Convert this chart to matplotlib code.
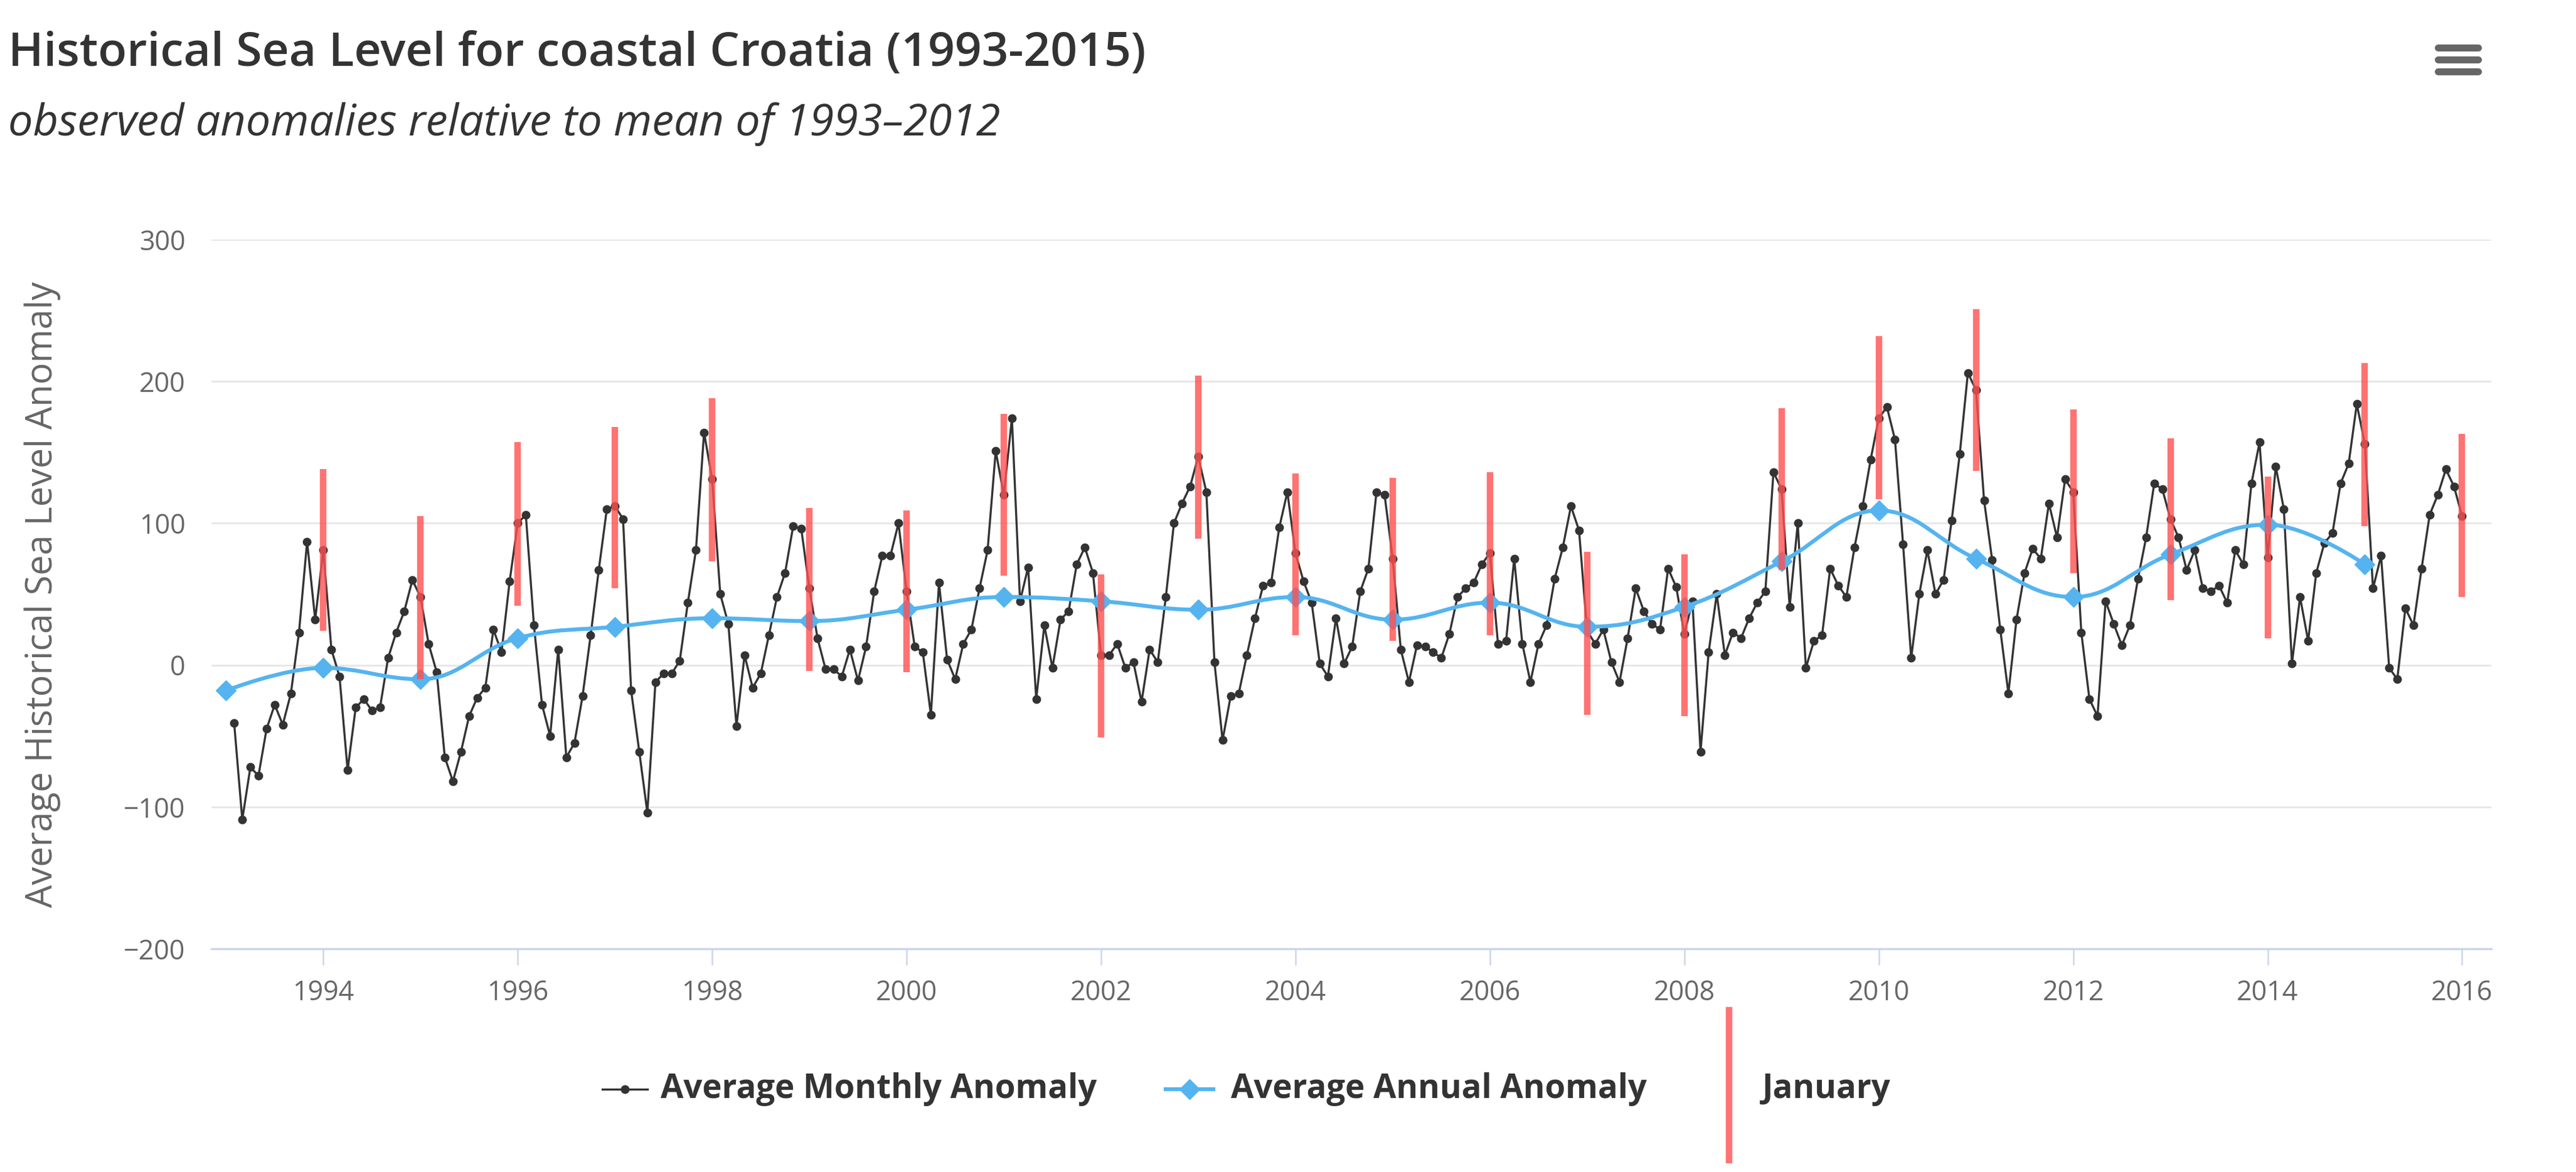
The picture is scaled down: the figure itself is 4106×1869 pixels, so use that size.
import matplotlib
matplotlib.use("Agg")
import matplotlib.pyplot as plt
from matplotlib.path import Path
from matplotlib.patches import PathPatch
from matplotlib.lines import Line2D

plt.rcParams['font.family'] = ['Open Sans', 'DejaVu Sans']

# monthly sea level anomaly, Feb 1993 .. Jan 2016 (one row per year)
monthly_anomaly = [
    -41, -109, -72, -78, -45, -28, -42, -20, 23, 87, 32,          # 1993 (Feb-Dec)
    81, 11, -8, -74, -30, -24, -32, -30, 5, 23, 38, 60,            # 1994
    48, 15, -5, -65, -82, -61, -36, -23, -16, 25, 9, 59,           # 1995
    100, 106, 28, -28, -50, 11, -65, -55, -22, 21, 67, 110,        # 1996
    112, 103, -18, -61, -104, -12, -6, -6, 3, 44, 81, 164,         # 1997
    131, 50, 29, -43, 7, -16, -6, 21, 48, 65, 98, 96,              # 1998
    54, 19, -3, -3, -8, 11, -11, 13, 52, 77, 77, 100,              # 1999
    52, 13, 9, -35, 58, 4, -10, 15, 25, 54, 81, 151,               # 2000
    120, 174, 45, 69, -24, 28, -2, 32, 38, 71, 83, 65,             # 2001
    7, 7, 15, -2, 2, -26, 11, 2, 48, 100, 114, 126,                # 2002
    147, 122, 2, -53, -22, -20, 7, 33, 56, 58, 97, 122,            # 2003
    79, 59, 44, 1, -8, 33, 1, 13, 52, 68, 122, 120,                # 2004
    75, 11, -12, 14, 13, 9, 5, 22, 48, 54, 58, 71,                 # 2005
    79, 15, 17, 75, 15, -12, 15, 28, 61, 83, 112, 95,              # 2006
    24, 15, 25, 2, -12, 19, 54, 38, 29, 25, 68, 55,                # 2007
    22, 45, -61, 9, 50, 7, 23, 19, 33, 44, 52, 136,                # 2008
    124, 41, 100, -2, 17, 21, 68, 56, 48, 83, 112, 145,            # 2009
    174, 182, 159, 85, 5, 50, 81, 50, 60, 102, 149, 206,           # 2010
    194, 116, 74, 25, -20, 32, 65, 82, 75, 114, 90, 131,           # 2011
    122, 23, -24, -36, 45, 29, 14, 28, 61, 90, 128, 124,           # 2012
    103, 90, 67, 81, 54, 52, 56, 44, 81, 71, 128, 157,             # 2013
    76, 140, 110, 1, 48, 17, 65, 86, 93, 128, 142, 184,            # 2014
    156, 54, 77, -2, -10, 40, 28, 68, 106, 120, 138, 126,          # 2015
    105,                                                           # 2016 (Jan)
]
first_year, first_month = 1993, 2

annual_years = list(range(1993, 2016))
annual_anomaly = [-18, -2, -10, 19, 27, 33, 31, 39, 48, 45, 39, 48,
                  32, 44, 27, 41, 73, 109, 75, 48, 78, 99, 71]

jan_years = list(range(1994, 2017))
jan_high = [138, 105, 157, 168, 188, 111, 109, 177, 64, 204, 135, 132,
            136, 80, 78, 181, 232, 251, 180, 160, 133, 213, 163]
jan_low = [24, -10, 42, 54, 73, -4, -5, 63, -51, 89, 21, 17,
           21, -35, -36, 67, 117, 137, 65, 46, 19, 98, 48]

title = "Historical Sea Level for coastal Croatia (1993-2015)"
subtitle = "observed anomalies relative to mean of 1993\u20132012"
ylabel = "Average Historical Sea Level Anomaly"

BLACK = "#333333"
BLUE = "#55b4ef"
RED = "#ff5050"


def spline_path(xs, ys):
    # Highcharts-style smoothed line through the points
    n = len(xs)
    lc = [None] * n
    rc = [None] * n
    for i in range(1, n - 1):
        px, py = xs[i], ys[i]
        lx, ly = xs[i - 1], ys[i - 1]
        nx, ny = xs[i + 1], ys[i + 1]
        lcx = (1.5 * px + lx) / 2.5
        lcy = (1.5 * py + ly) / 2.5
        rcx = (1.5 * px + nx) / 2.5
        rcy = (1.5 * py + ny) / 2.5
        corr = (rcy - lcy) * (rcx - px) / (rcx - lcx) + py - rcy
        lcy += corr
        rcy += corr
        if lcy > ly and lcy > py:
            lcy = max(ly, py)
            rcy = 2 * py - lcy
        elif lcy < ly and lcy < py:
            lcy = min(ly, py)
            rcy = 2 * py - lcy
        if rcy > ny and rcy > py:
            rcy = max(ny, py)
            lcy = 2 * py - rcy
        elif rcy < ny and rcy < py:
            rcy = min(ny, py)
            lcy = 2 * py - rcy
        lc[i] = (lcx, lcy)
        rc[i] = (rcx, rcy)
    verts = [(xs[0], ys[0])]
    codes = [Path.MOVETO]
    for i in range(1, n):
        c1 = rc[i - 1] if rc[i - 1] else (xs[i - 1], ys[i - 1])
        c2 = lc[i] if lc[i] else (xs[i], ys[i])
        verts += [c1, c2, (xs[i], ys[i])]
        codes += [Path.CURVE4] * 3
    return Path(verts, codes)


month_x = [first_year + (first_month - 1 + i) / 12 for i in range(len(monthly_anomaly))]

fig = plt.figure(figsize=(41.06, 18.69), dpi=100)
ax = fig.add_axes([0.0821, 0.1905, 0.8850, 0.6051])

ax.plot(month_x, monthly_anomaly, color=BLACK, lw=2.4, marker="o", ms=9,
        mec=BLACK, zorder=3)

ax.add_patch(PathPatch(spline_path(annual_years, annual_anomaly), fill=False,
                       ec=BLUE, lw=4.5, zorder=4, capstyle="round"))
ax.plot(annual_years, annual_anomaly, ls="none", marker="D", ms=16,
        color=BLUE, zorder=5)

ax.vlines(jan_years, jan_low, jan_high, color=RED, lw=7.5, alpha=0.8, zorder=6)

ax.set_xlim(1992.85, 2016.3)
ax.set_ylim(-200, 300)
ax.set_xticks(range(1994, 2017, 2))
ax.set_yticks(range(-200, 301, 100))
ax.grid(axis="y", color="#e6e6e6", lw=2)
ax.set_axisbelow(True)
for s in ["top", "right", "left"]:
    ax.spines[s].set_visible(False)
ax.spines["bottom"].set_color("#ccd6eb")
ax.spines["bottom"].set_linewidth(2.5)
ax.tick_params(axis="x", colors="#666666", length=19, width=1.8, pad=16,
               labelsize=31, color="#ccd6eb")
ax.tick_params(axis="y", colors="#666666", length=0, pad=30, labelsize=31)

fig.text(68 / 4106, 0.493, ylabel, rotation=90, ha="center", va="center",
         fontsize=41.5, color="#666666")
fig.text(13 / 4106, 1 - 105 / 1869, title, fontsize=54, color="#333333",
         weight="semibold", va="baseline")
fig.text(13 / 4106, 1 - 216 / 1869, subtitle, fontsize=50.5, color="#333333",
         style="italic", va="baseline")

# menu icon
for yy in [76, 95, 114]:
    fig.add_artist(Line2D([3886 / 4106, 3950 / 4106], [1 - yy / 1869] * 2,
                          color="#666666", lw=8, solid_capstyle="round"))

# legend
ly = 1 - 1737 / 1869
fig.add_artist(Line2D([960 / 4106, 1032 / 4106], [ly, ly], color=BLACK, lw=2.4))
fig.add_artist(Line2D([996 / 4106], [ly], color=BLACK, marker="o", ms=9))
fig.text(1053 / 4106, ly, "Average Monthly Anomaly", fontsize=38,
         weight="bold", color="#333333", va="center")
fig.add_artist(Line2D([1858 / 4106, 1934 / 4106], [ly, ly], color=BLUE, lw=4.5))
fig.add_artist(Line2D([1896 / 4106], [ly], color=BLUE, marker="D", ms=16))
fig.text(1962 / 4106, ly, "Average Annual Anomaly", fontsize=38,
         weight="bold", color="#333333", va="center")
fig.add_artist(Line2D([2756 / 4106, 2756 / 4106], [1 - 1611 / 1869, 1 - 1850 / 1869],
                      color=RED, lw=7.5, alpha=0.8))
fig.text(2809 / 4106, ly, "January", fontsize=38, weight="bold",
         color="#333333", va="center")

fig.savefig("out.png", dpi=100, facecolor="white")
